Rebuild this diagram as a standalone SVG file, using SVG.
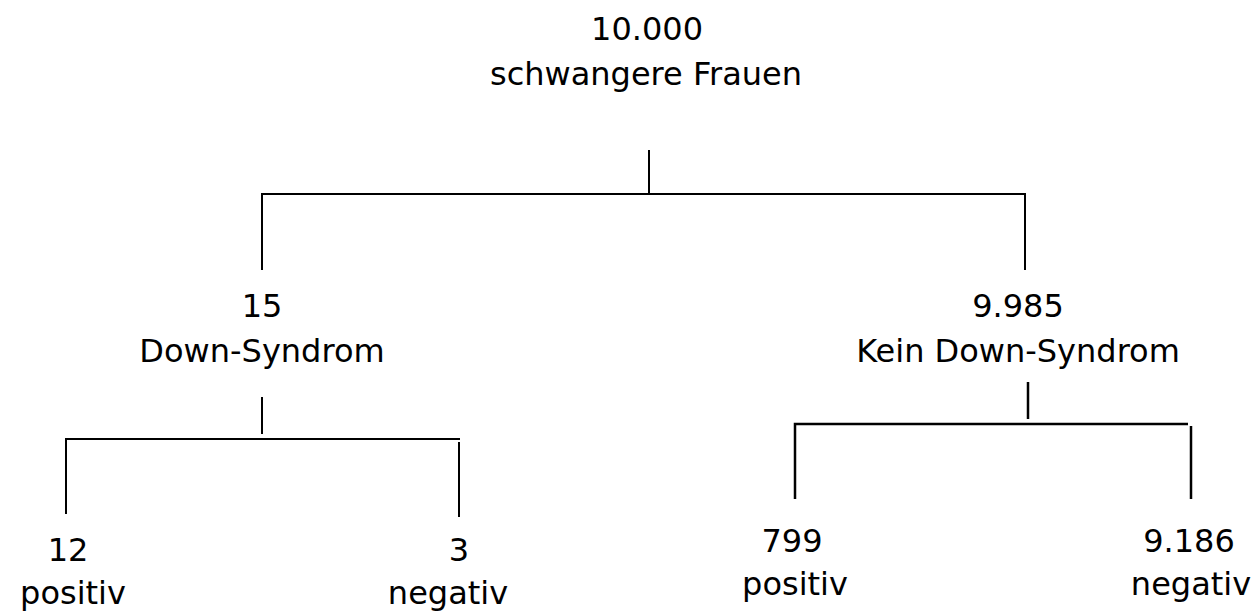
<svg xmlns="http://www.w3.org/2000/svg" width="1258" height="614" viewBox="0 0 1258 614">
<style>
text{font-family:"DejaVu Sans",Verdana,sans-serif;font-size:32px;fill:#000;text-anchor:middle}
.c{stroke:#000;stroke-width:2;fill:none}
</style>
<rect width="1258" height="614" fill="#fff"/>
<g id="root"><text x="647" y="40">10.000</text><text x="646" y="85">schwangere Frauen</text></g>
<g id="ds"><text x="262" y="317">15</text><text x="262" y="362">Down-Syndrom</text></g>
<g id="kds"><text x="1018" y="317">9.985</text><text x="1018" y="362">Kein Down-Syndrom</text></g>
<g id="ds-pos"><text x="68" y="561">12</text><text x="73" y="604">positiv</text></g>
<g id="ds-neg"><text x="459" y="561">3</text><text x="448" y="604">negativ</text></g>
<g id="kds-pos"><text x="792" y="552">799</text><text x="795" y="595">positiv</text></g>
<g id="kds-neg"><text x="1189" y="552">9.186</text><text x="1191" y="595">negativ</text></g>
<g id="connectors" class="c">
<path d="M649 150V194M262 270V194H1025V270"/>
<path d="M262 397V434M66 514V439H460M459 442V517"/>
<path d="M1028 382V419M795 499V424H1188M1191 426V499" style="stroke-width:2.5"/>
</g>
</svg>
